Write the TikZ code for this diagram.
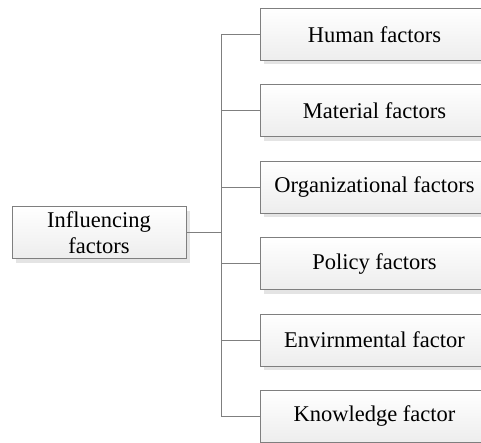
\documentclass[tikz,border=0pt]{standalone}
\usepackage{fontspec}
\setmainfont{Liberation Serif}
\usetikzlibrary{shadows}
\definecolor{edgegray}{HTML}{7F7F7F}
\definecolor{shadegray}{HTML}{E4E4E4}
\definecolor{fillbot}{HTML}{EDEDED}
\tikzset{
  fbox/.style={draw=edgegray, line width=1pt, top color=white, bottom color=fillbot,
    minimum height=52pt, inner sep=0pt, align=center,
    font=\fontsize{22.5}{26}\selectfont,
    drop shadow={shadow xshift=4pt, shadow yshift=-4pt, fill=shadegray, opacity=1}},
  conn/.style={draw=edgegray, line width=1pt}
}
\begin{document}
\begin{tikzpicture}[x=1pt,y=-1pt]
\useasboundingbox (0,0) rectangle (481,443);
\clip (0,0) rectangle (481,443);
\node[fbox, minimum width=174pt] (root) at (99,233) {Influencing\\factors};
\foreach \i/\t in {0/Human factors,1/Material factors,2/Organizational factors,3/Policy factors,4/Envirnmental factor,5/Knowledge factor}{
  \node[fbox, minimum width=229pt] (b\i) at (374.5,{34.5+76.4*\i}) {\t};
}
\coordinate (jn) at (221,233);
\coordinate (vt) at (221,34.5);
\coordinate (vb) at (221,416.5);
\draw[conn] (root.east) -- (jn);
\draw[conn] (vt) -- (vb);
\foreach \i in {0,...,5}{
  \draw[conn] (b\i.west) -- (b\i.west -| jn);
}
\end{tikzpicture}
\end{document}
